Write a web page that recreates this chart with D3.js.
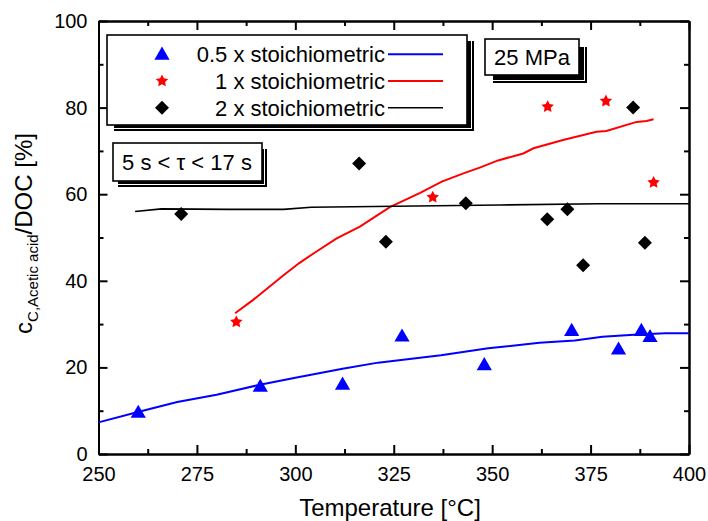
<!DOCTYPE html>
<html>
<head>
<meta charset="utf-8">
<script src="https://cdn.jsdelivr.net/npm/d3@7"></script>
<style>
  body { margin: 0; background: #fff; }
  svg { font-family: "Liberation Sans", Arial, sans-serif; }
  .axis path, .axis line { stroke: #000; stroke-width: 2; }
  .axis text { font-size: 20px; fill: #000; }
</style>
</head>
<body>
<svg id="chart" width="708" height="521"></svg>
<script>
// data
var blueLineT = [250, 260, 270, 280, 291, 300, 312, 321, 337, 349, 362, 371, 378, 387, 394, 400];
var blueLineC = [7.3, 9.7, 12.0, 13.7, 16.0, 17.6, 19.7, 21.1, 22.8, 24.4, 25.7, 26.2, 27.1, 27.6, 27.9, 27.9];
var redLineT = [284.7, 289.3, 297, 301, 304.6, 310.5, 316.4, 324, 331.7, 337.2, 342.7, 347, 351.5, 357.9, 360.5, 368, 376.5, 379, 386.7, 389.2, 391];
var redLineC = [32.5, 35.6, 41.3, 44.1, 46.3, 49.8, 52.5, 57.0, 60.3, 62.9, 64.8, 66.2, 67.8, 69.4, 70.6, 72.5, 74.4, 74.6, 76.7, 76.9, 77.3];
var blackLineT = [259.3, 266, 283, 297, 304, 352, 377, 400];
var blackLineC = [56.0, 56.6, 56.5, 56.5, 57.0, 57.5, 57.8, 57.8];

var blueT = [260.1, 291.1, 312, 327.1, 348, 370.2, 382.1, 387.9, 390.1];
var blueC = [9.6, 15.6, 16.1, 27.2, 20.6, 28.5, 24.2, 28.5, 27.1];
var redT = [285, 334.9, 364.1, 378.9, 391.0];
var redC = [30.5, 59.3, 80.2, 81.5, 62.7];
var blackT = [271, 316.2, 323, 343.3, 364, 369.1, 373.1, 385.8, 388.8];
var blackC = [55.4, 67.1, 49.0, 57.9, 54.2, 56.5, 43.6, 80.0, 48.8];

var xTicks = [250, 275, 300, 325, 350, 375, 400];
var xMinor = [262.5, 287.5, 312.5, 337.5, 362.5, 387.5];
var yTicks = [0, 20, 40, 60, 80, 100];
var yMinor = [10, 30, 50, 70, 90];

var legendLabels = ["0.5 x stoichiometric", "1 x stoichiometric", "2 x stoichiometric"];

var svg = d3.select("#chart"),
    margin = {top: 21, right: 19, bottom: 67, left: 98.5},
    w = +svg.attr("width") - margin.left - margin.right,
    h = +svg.attr("height") - margin.top - margin.bottom;

var x = d3.scaleLinear().domain([250, 400]).range([0, w]);
var y = d3.scaleLinear().domain([0, 100]).range([h, 0]);

var g = svg.append("g")
    .attr("transform", "translate(" + margin.left + "," + margin.top + ")");

function zip(a, b) { return a.map(function(v, i) { return [v, b[i]]; }); }

// axes, ticks inside on all four sides
function addAxis(axis, tr, labels) {
  var a = g.append("g").attr("class", "axis").attr("transform", tr).call(axis);
  if (!labels) a.selectAll("text").remove();
  return a;
}
addAxis(d3.axisBottom(x).tickValues(xTicks).tickSizeInner(-9).tickSizeOuter(0).tickPadding(13), "translate(0," + h + ")", true);
addAxis(d3.axisBottom(x).tickValues(xMinor).tickSizeInner(-5).tickSizeOuter(0), "translate(0," + h + ")", false);
addAxis(d3.axisTop(x).tickValues(xTicks).tickSizeInner(-9).tickSizeOuter(0), "translate(0,0)", false);
addAxis(d3.axisTop(x).tickValues(xMinor).tickSizeInner(-5).tickSizeOuter(0), "translate(0,0)", false);
addAxis(d3.axisLeft(y).tickValues(yTicks).tickSizeInner(-9).tickSizeOuter(0).tickPadding(11), "translate(0,0)", true);
addAxis(d3.axisLeft(y).tickValues(yMinor).tickSizeInner(-5).tickSizeOuter(0), "translate(0,0)", false);
addAxis(d3.axisRight(y).tickValues(yTicks).tickSizeInner(-9).tickSizeOuter(0), "translate(" + w + ",0)", false);
addAxis(d3.axisRight(y).tickValues(yMinor).tickSizeInner(-5).tickSizeOuter(0), "translate(" + w + ",0)", false);

// axis titles
svg.append("text")
    .attr("x", 390).attr("y", 516)
    .attr("text-anchor", "middle")
    .style("font-size", "24px")
    .text("Temperature [°C]");

var yt = svg.append("text")
    .attr("transform", "translate(32," + (margin.top + h / 2 - 4) + ") rotate(-90)")
    .attr("text-anchor", "middle")
    .style("font-size", "24px");
yt.append("tspan").text("c");
yt.append("tspan").attr("dy", 6).style("font-size", "15px").text("C,Acetic acid");
yt.append("tspan").attr("dy", -6).text("/DOC [%]");

// fitted lines
var line = d3.line().x(function(d) { return x(d[0]); }).y(function(d) { return y(d[1]); });

g.append("path").datum(zip(blueLineT, blueLineC))
    .attr("fill", "none").attr("stroke", "#0000ff").attr("stroke-width", 2).attr("d", line);
g.append("path").datum(zip(redLineT, redLineC))
    .attr("fill", "none").attr("stroke", "#ff0000").attr("stroke-width", 2).attr("d", line);
g.append("path").datum(zip(blackLineT, blackLineC))
    .attr("fill", "none").attr("stroke", "#000").attr("stroke-width", 1.6).attr("d", line);

// a chunkier five-point star than d3.symbolStar
var fatStar = {
  draw: function(ctx, size) {
    var r = Math.sqrt(size / 1.4), ri = r * 0.5;
    for (var i = 0; i < 10; i++) {
      var a = -Math.PI / 2 + i * Math.PI / 5, rr = i % 2 ? ri : r;
      if (i === 0) ctx.moveTo(rr * Math.cos(a), rr * Math.sin(a));
      else ctx.lineTo(rr * Math.cos(a), rr * Math.sin(a));
    }
    ctx.closePath();
  }
};

// markers
var tri = d3.symbol().type(d3.symbolTriangle).size(100),
    star = d3.symbol().type(fatStar).size(60),
    diam = d3.symbol().type(d3.symbolSquare).size(98);

g.selectAll(".tri").data(zip(blueT, blueC)).enter().append("path")
    .attr("class", "tri").attr("d", tri).attr("fill", "#0000ff")
    .attr("transform", function(d) { return "translate(" + x(d[0]) + "," + (y(d[1]) + 1) + ")"; });
g.selectAll(".star").data(zip(redT, redC)).enter().append("path")
    .attr("class", "star").attr("d", star).attr("fill", "#ff0000")
    .attr("transform", function(d) { return "translate(" + x(d[0]) + "," + y(d[1]) + ")"; });
g.selectAll(".diam").data(zip(blackT, blackC)).enter().append("path")
    .attr("class", "diam").attr("d", diam).attr("fill", "#000")
    .attr("transform", function(d) { return "translate(" + x(d[0]) + "," + y(d[1]) + ") rotate(45)"; });

// boxes with a shadow
function shadowBox(bx, by, bw, bh, dx, dy) {
  svg.append("rect").attr("x", bx + dx).attr("y", by + dy).attr("width", bw).attr("height", bh)
      .attr("fill", "#000");
  svg.append("rect").attr("x", bx + dx - 2.5).attr("y", by + dy - 2.5).attr("width", bw).attr("height", bh)
      .attr("fill", "none").attr("stroke", "#fff").attr("stroke-width", 1);
  svg.append("rect").attr("x", bx).attr("y", by).attr("width", bw).attr("height", bh)
      .attr("fill", "#fff").attr("stroke", "#000").attr("stroke-width", 1.6);
}

shadowBox(107, 35, 360, 90, 7, 6);
shadowBox(485, 39, 94, 36, 8, 8);
shadowBox(113, 143, 149, 38, 5, 6);

svg.append("text").attr("x", 532).attr("y", 65).attr("text-anchor", "middle")
    .style("font-size", "22px").text("25 MPa");
svg.append("text").attr("x", 187).attr("y", 170).attr("text-anchor", "middle")
    .style("font-size", "22px").text("5 s < τ < 17 s");

// legend
var legColors = ["#0000ff", "#ff0000", "#000"],
    legSyms = [tri, star, diam];
legendLabels.forEach(function(lab, i) {
  var cy = 54.3 + i * 26.7;
  svg.append("path").attr("d", legSyms[i]).attr("fill", legColors[i])
      .attr("transform", "translate(162," + (cy + (i === 0 ? 1 : 0)) + ")" + (i === 2 ? " rotate(45)" : ""));
  svg.append("text").attr("x", 385).attr("y", cy + 8).attr("text-anchor", "end")
      .style("font-size", "22px").text(lab);
  svg.append("line").attr("x1", 388).attr("x2", 443).attr("y1", cy).attr("y2", cy)
      .attr("stroke", legColors[i]).attr("stroke-width", i === 2 ? 1.6 : 2);
});
</script>
</body>
</html>
